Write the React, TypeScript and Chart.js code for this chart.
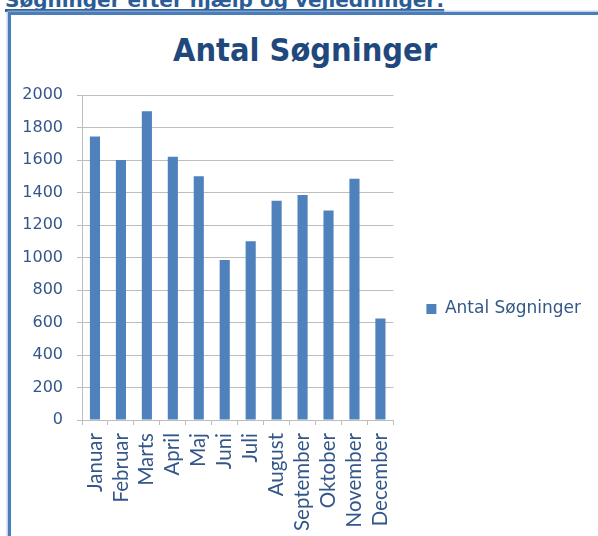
import React, { useEffect, useRef } from "react";
import { Chart, registerables } from "chart.js";

Chart.register(...registerables);

const heading = "Søgninger efter hjælp og vejledninger:";
const chartTitle = "Antal Søgninger";
const seriesLabel = "Antal Søgninger";
const months = [
  "Januar", "Februar", "Marts", "April", "Maj", "Juni",
  "Juli", "August", "September", "Oktober", "November", "December",
];
const searches = [1745, 1600, 1900, 1620, 1500, 985, 1100, 1350, 1385, 1290, 1485, 625];
const yMin = 0;
const yMax = 2000;
const yStep = 200;

const FONT = "'DejaVu Sans', Verdana, sans-serif";
const XFONT = "Lato, 'DejaVu Sans', sans-serif";
const TEXT_BLUE = "#34578A";
const BAR_BLUE = "#4F81BD";
const GRID = "#BDBDBD";

// nudges the right-hand legend up so it sits level with the reference
const legendNudge = {
  id: "legendNudge",
  afterLayout(chart: any) {
    const l = chart.legend;
    if (l) {
      l.top -= 6.5;
      l.bottom -= 6.5;
    }
  },
};

export default function App() {
  const canvasRef = useRef<HTMLCanvasElement | null>(null);

  useEffect(() => {
    if (!canvasRef.current) return;
    const chart = new Chart(canvasRef.current, {
      type: "bar",
      data: {
        labels: months,
        datasets: [
          {
            label: seriesLabel,
            data: searches,
            backgroundColor: BAR_BLUE,
            borderWidth: 0,
            barPercentage: 0.39,
            categoryPercentage: 1,
          },
        ],
      },
      plugins: [legendNudge],
      options: {
        responsive: false,
        animation: false,
        devicePixelRatio: 1,
        layout: { padding: { left: 23, top: 95, right: 7, bottom: 0 } },
        plugins: {
          title: { display: false },
          tooltip: { enabled: false },
          legend: {
            display: true,
            position: "right",
            align: "center",
            maxWidth: 220,
            labels: {
              boxWidth: 10,
              boxHeight: 10,
              padding: 33,
              color: TEXT_BLUE,
              font: { family: FONT, size: 17 },
            },
          },
        },
        scales: {
          x: {
            grid: {
              display: true,
              drawOnChartArea: false,
              drawTicks: true,
              tickLength: 5,
              color: GRID,
              offset: true,
            },
            border: { display: true, color: GRID, width: 1 },
            ticks: {
              autoSkip: false,
              minRotation: 90,
              maxRotation: 90,
              padding: 8,
              color: TEXT_BLUE,
              font: { family: XFONT, size: 20.5 },
            },
            afterFit: (scale: any) => {
              scale.height = 116;
            },
          },
          y: {
            min: yMin,
            max: yMax,
            grid: {
              display: true,
              drawOnChartArea: true,
              drawTicks: true,
              tickLength: 5,
              color: GRID,
            },
            border: { display: true, color: GRID, width: 1 },
            ticks: {
              stepSize: yStep,
              padding: 14,
              color: TEXT_BLUE,
              font: { family: FONT, size: 16 },
              callback: (value: any) => String(value),
            },
            afterFit: (scale: any) => {
              scale.width = 59;
            },
          },
        },
      },
    });
    return () => chart.destroy();
  }, []);

  return (
    <div
      style={{
        position: "absolute",
        left: 0,
        top: 0,
        width: 598,
        height: 536,
        overflow: "hidden",
        background: "#fff",
      }}
    >
      <div
        style={{
          position: "absolute",
          left: 5,
          top: -11.4,
          whiteSpace: "nowrap",
          fontFamily: FONT,
          fontWeight: "bold",
          fontSize: 20,
          lineHeight: "23px",
          color: "#2B5C95",
          textDecoration: "underline",
          textDecorationThickness: "3px",
          textUnderlineOffset: "2px",
          textDecorationSkipInk: "none",
        }}
      >
        {heading}
      </div>
      <div
        style={{
          position: "absolute",
          left: 8,
          top: 12,
          width: 800,
          height: 800,
          border: "3px solid #4A7DBA",
          boxShadow: "0 0 2px 1px #A7C2E5",
        }}
      />
      <div
        style={{
          position: "absolute",
          left: 0,
          top: 37.2,
          width: 610,
          textAlign: "center",
          fontFamily: FONT,
          fontWeight: "bold",
          fontSize: 29,
          lineHeight: "29px",
          color: "#1F497D",
          transform: "scaleY(1.12)",
          transformOrigin: "50% 24.5px",
          whiteSpace: "nowrap",
        }}
      >
        {chartTitle}
      </div>
      <canvas
        ref={canvasRef}
        width={598}
        height={536}
        style={{ position: "absolute", left: 0, top: 0, width: 598, height: 536 }}
      />
    </div>
  );
}
